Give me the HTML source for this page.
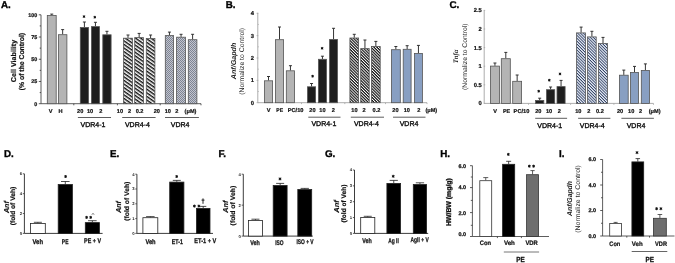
<!DOCTYPE html>
<html><head><meta charset="utf-8"><style>
html,body{margin:0;padding:0;background:#fff;}
body{width:675px;height:263px;overflow:hidden;}
svg{display:block;font-family:"Liberation Sans", sans-serif;will-change:transform;text-rendering:geometricPrecision;filter:blur(0.35px);}
</style></head><body>
<svg width="675" height="263" viewBox="0 0 675 263">
<defs>
<pattern id="hatchA" patternUnits="userSpaceOnUse" width="6" height="2.95" patternTransform="rotate(35)">
<rect width="6" height="2.95" fill="#fff"/><rect width="6" height="1.45" fill="#111"/></pattern>
<pattern id="hatchB" patternUnits="userSpaceOnUse" width="6" height="2.05" patternTransform="rotate(45)">
<rect width="6" height="2.05" fill="#fff"/><rect width="6" height="1.15" fill="#111"/></pattern>
<pattern id="hatchC" patternUnits="userSpaceOnUse" width="6" height="2.05" patternTransform="rotate(45)">
<rect width="6" height="2.05" fill="#eef3fc"/><rect width="6" height="0.9" fill="#2c3c60"/></pattern>
<pattern id="checkA" patternUnits="userSpaceOnUse" width="2" height="2">
<rect width="2" height="2" fill="#c2c5ce"/><rect width="1" height="1" fill="#7e8494"/><rect x="1" y="1" width="1" height="1" fill="#7e8494"/></pattern>
</defs>
<rect width="675" height="263" fill="#fff"/>
<text x="1.00" y="7.60" font-size="9.8" font-weight="bold" font-style="normal" text-anchor="start" fill="#000" stroke="#000" stroke-width="0.35" >A.</text>
<line x1="41.00" y1="14.80" x2="41.00" y2="103.70" stroke="#333" stroke-width="0.8"/>
<line x1="41.00" y1="103.70" x2="201.00" y2="103.70" stroke="#333" stroke-width="0.8"/>
<line x1="38.80" y1="103.70" x2="41.00" y2="103.70" stroke="#333" stroke-width="0.8"/>
<text x="37.20" y="105.60" font-size="5.4" font-weight="bold" font-style="normal" text-anchor="end" fill="#111" stroke="#111" stroke-width="0.2" >0</text>
<line x1="38.80" y1="81.47" x2="41.00" y2="81.47" stroke="#333" stroke-width="0.8"/>
<text x="37.20" y="83.38" font-size="5.4" font-weight="bold" font-style="normal" text-anchor="end" fill="#111" stroke="#111" stroke-width="0.2" >25</text>
<line x1="38.80" y1="59.25" x2="41.00" y2="59.25" stroke="#333" stroke-width="0.8"/>
<text x="37.20" y="61.15" font-size="5.4" font-weight="bold" font-style="normal" text-anchor="end" fill="#111" stroke="#111" stroke-width="0.2" >50</text>
<line x1="38.80" y1="37.03" x2="41.00" y2="37.03" stroke="#333" stroke-width="0.8"/>
<text x="37.20" y="38.93" font-size="5.4" font-weight="bold" font-style="normal" text-anchor="end" fill="#111" stroke="#111" stroke-width="0.2" >75</text>
<line x1="38.80" y1="14.80" x2="41.00" y2="14.80" stroke="#333" stroke-width="0.8"/>
<text x="37.20" y="16.70" font-size="5.4" font-weight="bold" font-style="normal" text-anchor="end" fill="#111" stroke="#111" stroke-width="0.2" >100</text>
<line x1="39.70" y1="92.59" x2="41.00" y2="92.59" stroke="#333" stroke-width="0.8"/>
<line x1="39.70" y1="70.36" x2="41.00" y2="70.36" stroke="#333" stroke-width="0.8"/>
<line x1="39.70" y1="48.14" x2="41.00" y2="48.14" stroke="#333" stroke-width="0.8"/>
<line x1="39.70" y1="25.91" x2="41.00" y2="25.91" stroke="#333" stroke-width="0.8"/>
<line x1="73.80" y1="103.70" x2="73.80" y2="105.30" stroke="#333" stroke-width="0.8"/>
<line x1="117.40" y1="103.70" x2="117.40" y2="105.30" stroke="#333" stroke-width="0.8"/>
<line x1="160.20" y1="103.70" x2="160.20" y2="105.30" stroke="#333" stroke-width="0.8"/>
<line x1="201.00" y1="103.70" x2="201.00" y2="105.30" stroke="#333" stroke-width="0.8"/>
<line x1="51.75" y1="15.20" x2="51.75" y2="14.10" stroke="#2a2a2a" stroke-width="0.95"/>
<line x1="50.25" y1="14.10" x2="53.25" y2="14.10" stroke="#2a2a2a" stroke-width="0.95"/>
<rect x="47.30" y="15.50" width="8.90" height="88.20" fill="#b4b4b4" stroke="#555" stroke-width="0.8"/>
<line x1="62.65" y1="34.40" x2="62.65" y2="29.60" stroke="#2a2a2a" stroke-width="0.95"/>
<line x1="61.15" y1="29.60" x2="64.15" y2="29.60" stroke="#2a2a2a" stroke-width="0.95"/>
<rect x="58.40" y="34.70" width="8.50" height="69.00" fill="#b4b4b4" stroke="#555" stroke-width="0.8"/>
<line x1="84.40" y1="27.10" x2="84.40" y2="22.00" stroke="#2a2a2a" stroke-width="0.95"/>
<line x1="82.90" y1="22.00" x2="85.90" y2="22.00" stroke="#2a2a2a" stroke-width="0.95"/>
<rect x="80.30" y="27.40" width="8.20" height="76.30" fill="#1e1e1e" stroke="#555" stroke-width="0.8"/>
<line x1="95.45" y1="26.30" x2="95.45" y2="22.30" stroke="#2a2a2a" stroke-width="0.95"/>
<line x1="93.95" y1="22.30" x2="96.95" y2="22.30" stroke="#2a2a2a" stroke-width="0.95"/>
<rect x="91.40" y="26.60" width="8.10" height="77.10" fill="#1e1e1e" stroke="#555" stroke-width="0.8"/>
<line x1="106.95" y1="34.50" x2="106.95" y2="31.30" stroke="#2a2a2a" stroke-width="0.95"/>
<line x1="105.45" y1="31.30" x2="108.45" y2="31.30" stroke="#2a2a2a" stroke-width="0.95"/>
<rect x="102.80" y="34.80" width="8.30" height="68.90" fill="#1e1e1e" stroke="#555" stroke-width="0.8"/>
<line x1="128.00" y1="37.90" x2="128.00" y2="35.00" stroke="#2a2a2a" stroke-width="0.95"/>
<line x1="126.50" y1="35.00" x2="129.50" y2="35.00" stroke="#2a2a2a" stroke-width="0.95"/>
<rect x="123.50" y="38.20" width="9.00" height="65.50" fill="url(#hatchA)" stroke="#555" stroke-width="0.8"/>
<line x1="139.15" y1="37.30" x2="139.15" y2="33.40" stroke="#2a2a2a" stroke-width="0.95"/>
<line x1="137.65" y1="33.40" x2="140.65" y2="33.40" stroke="#2a2a2a" stroke-width="0.95"/>
<rect x="134.70" y="37.60" width="8.90" height="66.10" fill="url(#hatchA)" stroke="#555" stroke-width="0.8"/>
<line x1="150.60" y1="38.20" x2="150.60" y2="35.00" stroke="#2a2a2a" stroke-width="0.95"/>
<line x1="149.10" y1="35.00" x2="152.10" y2="35.00" stroke="#2a2a2a" stroke-width="0.95"/>
<rect x="146.30" y="38.50" width="8.60" height="65.20" fill="url(#hatchA)" stroke="#555" stroke-width="0.8"/>
<line x1="169.45" y1="35.30" x2="169.45" y2="32.10" stroke="#2a2a2a" stroke-width="0.95"/>
<line x1="167.95" y1="32.10" x2="170.95" y2="32.10" stroke="#2a2a2a" stroke-width="0.95"/>
<rect x="165.30" y="35.60" width="8.30" height="68.10" fill="url(#checkA)" stroke="#555" stroke-width="0.8"/>
<line x1="181.05" y1="36.90" x2="181.05" y2="34.30" stroke="#2a2a2a" stroke-width="0.95"/>
<line x1="179.55" y1="34.30" x2="182.55" y2="34.30" stroke="#2a2a2a" stroke-width="0.95"/>
<rect x="176.60" y="37.20" width="8.90" height="66.50" fill="url(#checkA)" stroke="#555" stroke-width="0.8"/>
<line x1="192.60" y1="39.40" x2="192.60" y2="34.30" stroke="#2a2a2a" stroke-width="0.95"/>
<line x1="191.10" y1="34.30" x2="194.10" y2="34.30" stroke="#2a2a2a" stroke-width="0.95"/>
<rect x="188.30" y="39.70" width="8.60" height="64.00" fill="url(#checkA)" stroke="#555" stroke-width="0.8"/>
<path d="M84.00,15.25L84.00,17.95M82.83,15.93L85.17,17.28M85.17,15.93L82.83,17.28" stroke="#111" stroke-width="0.95" fill="none"/>
<circle cx="84.0" cy="16.6" r="0.74" fill="#111"/>
<path d="M94.80,15.85L94.80,18.55M93.63,16.52L95.97,17.88M95.97,16.52L93.63,17.88" stroke="#111" stroke-width="0.95" fill="none"/>
<circle cx="94.8" cy="17.2" r="0.74" fill="#111"/>
<text x="50.50" y="113.20" font-size="5.6" font-weight="bold" font-style="normal" text-anchor="middle" fill="#111" stroke="#111" stroke-width="0.2" >V</text>
<text x="60.40" y="113.20" font-size="5.6" font-weight="bold" font-style="normal" text-anchor="middle" fill="#111" stroke="#111" stroke-width="0.2" >H</text>
<text x="80.20" y="113.20" font-size="5.6" font-weight="bold" font-style="normal" text-anchor="middle" fill="#111" stroke="#111" stroke-width="0.2" >20</text>
<text x="90.00" y="113.20" font-size="5.6" font-weight="bold" font-style="normal" text-anchor="middle" fill="#111" stroke="#111" stroke-width="0.2" >10</text>
<text x="100.70" y="113.20" font-size="5.6" font-weight="bold" font-style="normal" text-anchor="middle" fill="#111" stroke="#111" stroke-width="0.2" >2</text>
<text x="119.90" y="113.20" font-size="5.6" font-weight="bold" font-style="normal" text-anchor="middle" fill="#111" stroke="#111" stroke-width="0.2" >10</text>
<text x="129.50" y="113.20" font-size="5.6" font-weight="bold" font-style="normal" text-anchor="middle" fill="#111" stroke="#111" stroke-width="0.2" >2</text>
<text x="139.60" y="113.20" font-size="5.6" font-weight="bold" font-style="normal" text-anchor="middle" fill="#111" stroke="#111" stroke-width="0.2" >0.2</text>
<text x="156.80" y="113.20" font-size="5.6" font-weight="bold" font-style="normal" text-anchor="middle" fill="#111" stroke="#111" stroke-width="0.2" >20</text>
<text x="167.80" y="113.20" font-size="5.6" font-weight="bold" font-style="normal" text-anchor="middle" fill="#111" stroke="#111" stroke-width="0.2" >10</text>
<text x="176.90" y="113.20" font-size="5.6" font-weight="bold" font-style="normal" text-anchor="middle" fill="#111" stroke="#111" stroke-width="0.2" >2</text>
<text x="190.50" y="113.20" font-size="5.6" font-weight="bold" font-style="normal" text-anchor="middle" fill="#111" stroke="#111" stroke-width="0.2" >(&#956;M)</text>
<line x1="77.90" y1="117.50" x2="111.00" y2="117.50" stroke="#333" stroke-width="0.8"/>
<line x1="122.20" y1="117.50" x2="155.60" y2="117.50" stroke="#333" stroke-width="0.8"/>
<line x1="165.00" y1="117.50" x2="198.90" y2="117.50" stroke="#333" stroke-width="0.8"/>
<text x="93.00" y="127.00" font-size="7.0" font-weight="normal" font-style="normal" text-anchor="middle" fill="#111" stroke="#111" stroke-width="0.35" >VDR4-1</text>
<text x="137.40" y="127.00" font-size="7.0" font-weight="normal" font-style="normal" text-anchor="middle" fill="#111" stroke="#111" stroke-width="0.35" >VDR4-4</text>
<text x="180.20" y="127.00" font-size="7.0" font-weight="normal" font-style="normal" text-anchor="middle" fill="#111" stroke="#111" stroke-width="0.35" >VDR4</text>
<text x="0" y="0" transform="translate(15.92,61.00) rotate(-90)" font-size="7.0" font-weight="bold" font-style="normal" text-anchor="middle" fill="#111" textLength="42.4" lengthAdjust="spacingAndGlyphs" stroke="#111" stroke-width="0.2">Cell Viability</text>
<text x="0" y="0" transform="translate(24.02,61.60) rotate(-90)" font-size="7.0" font-weight="bold" font-style="normal" text-anchor="middle" fill="#111" textLength="57.3" lengthAdjust="spacingAndGlyphs" stroke="#111" stroke-width="0.2">(% of the Control)</text>
<text x="225.80" y="7.60" font-size="9.8" font-weight="bold" font-style="normal" text-anchor="start" fill="#000" stroke="#000" stroke-width="0.35" >B.</text>
<line x1="257.80" y1="12.80" x2="257.80" y2="102.70" stroke="#a4a4a4" stroke-width="0.9"/>
<line x1="257.80" y1="102.70" x2="427.00" y2="102.70" stroke="#a4a4a4" stroke-width="0.9"/>
<line x1="256.60" y1="102.70" x2="258.30" y2="102.70" stroke="#a4a4a4" stroke-width="0.8"/>
<text x="253.90" y="104.70" font-size="5.8" font-weight="bold" font-style="normal" text-anchor="end" fill="#111" stroke="#111" stroke-width="0.2" >0</text>
<line x1="256.60" y1="80.35" x2="258.30" y2="80.35" stroke="#a4a4a4" stroke-width="0.8"/>
<text x="253.90" y="82.35" font-size="5.8" font-weight="bold" font-style="normal" text-anchor="end" fill="#111" stroke="#111" stroke-width="0.2" >1</text>
<line x1="256.60" y1="58.00" x2="258.30" y2="58.00" stroke="#a4a4a4" stroke-width="0.8"/>
<text x="253.90" y="60.00" font-size="5.8" font-weight="bold" font-style="normal" text-anchor="end" fill="#111" stroke="#111" stroke-width="0.2" >2</text>
<line x1="256.60" y1="35.65" x2="258.30" y2="35.65" stroke="#a4a4a4" stroke-width="0.8"/>
<text x="253.90" y="37.65" font-size="5.8" font-weight="bold" font-style="normal" text-anchor="end" fill="#111" stroke="#111" stroke-width="0.2" >3</text>
<line x1="256.60" y1="13.30" x2="258.30" y2="13.30" stroke="#a4a4a4" stroke-width="0.8"/>
<text x="253.90" y="15.30" font-size="5.8" font-weight="bold" font-style="normal" text-anchor="end" fill="#111" stroke="#111" stroke-width="0.2" >4</text>
<line x1="257.80" y1="91.53" x2="258.80" y2="91.53" stroke="#a4a4a4" stroke-width="0.7"/>
<line x1="257.80" y1="69.17" x2="258.80" y2="69.17" stroke="#a4a4a4" stroke-width="0.7"/>
<line x1="257.80" y1="46.83" x2="258.80" y2="46.83" stroke="#a4a4a4" stroke-width="0.7"/>
<line x1="257.80" y1="24.47" x2="258.80" y2="24.47" stroke="#a4a4a4" stroke-width="0.7"/>
<line x1="301.50" y1="102.70" x2="301.50" y2="104.10" stroke="#a4a4a4" stroke-width="0.8"/>
<line x1="344.80" y1="102.70" x2="344.80" y2="104.10" stroke="#a4a4a4" stroke-width="0.8"/>
<line x1="385.50" y1="102.70" x2="385.50" y2="104.10" stroke="#a4a4a4" stroke-width="0.8"/>
<line x1="427.00" y1="102.70" x2="427.00" y2="104.10" stroke="#a4a4a4" stroke-width="0.8"/>
<line x1="268.50" y1="80.50" x2="268.50" y2="76.50" stroke="#2a2a2a" stroke-width="0.95"/>
<line x1="267.00" y1="76.50" x2="270.00" y2="76.50" stroke="#2a2a2a" stroke-width="0.95"/>
<rect x="264.40" y="80.80" width="8.20" height="21.90" fill="#b4b4b4" stroke="#555" stroke-width="0.8"/>
<line x1="279.50" y1="39.40" x2="279.50" y2="27.00" stroke="#2a2a2a" stroke-width="0.95"/>
<line x1="278.00" y1="27.00" x2="281.00" y2="27.00" stroke="#2a2a2a" stroke-width="0.95"/>
<rect x="275.40" y="39.70" width="8.20" height="63.00" fill="#b4b4b4" stroke="#555" stroke-width="0.8"/>
<line x1="290.45" y1="70.50" x2="290.45" y2="65.70" stroke="#2a2a2a" stroke-width="0.95"/>
<line x1="288.95" y1="65.70" x2="291.95" y2="65.70" stroke="#2a2a2a" stroke-width="0.95"/>
<rect x="286.30" y="70.80" width="8.30" height="31.90" fill="#b4b4b4" stroke="#555" stroke-width="0.8"/>
<line x1="311.55" y1="86.50" x2="311.55" y2="83.50" stroke="#2a2a2a" stroke-width="0.95"/>
<line x1="310.05" y1="83.50" x2="313.05" y2="83.50" stroke="#2a2a2a" stroke-width="0.95"/>
<rect x="307.50" y="86.80" width="8.10" height="15.90" fill="#1e1e1e" stroke="#555" stroke-width="0.8"/>
<line x1="322.45" y1="59.00" x2="322.45" y2="56.20" stroke="#2a2a2a" stroke-width="0.95"/>
<line x1="320.95" y1="56.20" x2="323.95" y2="56.20" stroke="#2a2a2a" stroke-width="0.95"/>
<rect x="318.40" y="59.30" width="8.10" height="43.40" fill="#1e1e1e" stroke="#555" stroke-width="0.8"/>
<line x1="333.55" y1="39.10" x2="333.55" y2="28.30" stroke="#2a2a2a" stroke-width="0.95"/>
<line x1="332.05" y1="28.30" x2="335.05" y2="28.30" stroke="#2a2a2a" stroke-width="0.95"/>
<rect x="329.60" y="39.40" width="7.90" height="63.30" fill="#1e1e1e" stroke="#555" stroke-width="0.8"/>
<line x1="354.25" y1="37.70" x2="354.25" y2="34.30" stroke="#2a2a2a" stroke-width="0.95"/>
<line x1="352.75" y1="34.30" x2="355.75" y2="34.30" stroke="#2a2a2a" stroke-width="0.95"/>
<rect x="349.90" y="38.00" width="8.70" height="64.70" fill="url(#hatchB)" stroke="#555" stroke-width="0.8"/>
<line x1="364.95" y1="48.30" x2="364.95" y2="40.00" stroke="#2a2a2a" stroke-width="0.95"/>
<line x1="363.45" y1="40.00" x2="366.45" y2="40.00" stroke="#2a2a2a" stroke-width="0.95"/>
<rect x="360.70" y="48.60" width="8.50" height="54.10" fill="url(#hatchB)" stroke="#555" stroke-width="0.8"/>
<line x1="375.85" y1="46.20" x2="375.85" y2="41.40" stroke="#2a2a2a" stroke-width="0.95"/>
<line x1="374.35" y1="41.40" x2="377.35" y2="41.40" stroke="#2a2a2a" stroke-width="0.95"/>
<rect x="371.50" y="46.50" width="8.70" height="56.20" fill="url(#hatchB)" stroke="#555" stroke-width="0.8"/>
<line x1="395.85" y1="49.40" x2="395.85" y2="46.50" stroke="#2a2a2a" stroke-width="0.95"/>
<line x1="394.35" y1="46.50" x2="397.35" y2="46.50" stroke="#2a2a2a" stroke-width="0.95"/>
<rect x="391.40" y="49.70" width="8.90" height="53.00" fill="#889fc2" stroke="#555" stroke-width="0.8"/>
<line x1="407.15" y1="49.00" x2="407.15" y2="45.70" stroke="#2a2a2a" stroke-width="0.95"/>
<line x1="405.65" y1="45.70" x2="408.65" y2="45.70" stroke="#2a2a2a" stroke-width="0.95"/>
<rect x="403.20" y="49.30" width="7.90" height="53.40" fill="#889fc2" stroke="#555" stroke-width="0.8"/>
<line x1="418.45" y1="53.10" x2="418.45" y2="45.40" stroke="#2a2a2a" stroke-width="0.95"/>
<line x1="416.95" y1="45.40" x2="419.95" y2="45.40" stroke="#2a2a2a" stroke-width="0.95"/>
<rect x="414.50" y="53.40" width="7.90" height="49.30" fill="#889fc2" stroke="#555" stroke-width="0.8"/>
<path d="M312.60,74.85L312.60,77.55M311.43,75.53L313.77,76.88M313.77,75.53L311.43,76.88" stroke="#111" stroke-width="0.95" fill="none"/>
<circle cx="312.6" cy="76.2" r="0.74" fill="#111"/>
<path d="M322.10,46.95L322.10,49.65M320.93,47.62L323.27,48.97M323.27,47.62L320.93,48.97" stroke="#111" stroke-width="0.95" fill="none"/>
<circle cx="322.1" cy="48.3" r="0.74" fill="#111"/>
<text x="268.60" y="112.00" font-size="5.6" font-weight="bold" font-style="normal" text-anchor="middle" fill="#111" stroke="#111" stroke-width="0.2" >V</text>
<text x="279.70" y="112.00" font-size="5.6" font-weight="bold" font-style="normal" text-anchor="middle" fill="#111" textLength="6.8" lengthAdjust="spacingAndGlyphs" stroke="#111" stroke-width="0.2" >PE</text>
<text x="295.60" y="112.00" font-size="5.6" font-weight="bold" font-style="normal" text-anchor="middle" fill="#111" textLength="15.8" lengthAdjust="spacingAndGlyphs" stroke="#111" stroke-width="0.2" >PC/10</text>
<text x="312.40" y="112.00" font-size="5.6" font-weight="bold" font-style="normal" text-anchor="middle" fill="#111" stroke="#111" stroke-width="0.2" >20</text>
<text x="322.40" y="112.00" font-size="5.6" font-weight="bold" font-style="normal" text-anchor="middle" fill="#111" stroke="#111" stroke-width="0.2" >10</text>
<text x="333.20" y="112.00" font-size="5.6" font-weight="bold" font-style="normal" text-anchor="middle" fill="#111" stroke="#111" stroke-width="0.2" >2</text>
<text x="354.40" y="112.00" font-size="5.6" font-weight="bold" font-style="normal" text-anchor="middle" fill="#111" stroke="#111" stroke-width="0.2" >10</text>
<text x="364.10" y="112.00" font-size="5.6" font-weight="bold" font-style="normal" text-anchor="middle" fill="#111" stroke="#111" stroke-width="0.2" >2</text>
<text x="376.50" y="112.00" font-size="5.6" font-weight="bold" font-style="normal" text-anchor="middle" fill="#111" stroke="#111" stroke-width="0.2" >0.2</text>
<text x="395.40" y="112.00" font-size="5.6" font-weight="bold" font-style="normal" text-anchor="middle" fill="#111" stroke="#111" stroke-width="0.2" >20</text>
<text x="406.80" y="112.00" font-size="5.6" font-weight="bold" font-style="normal" text-anchor="middle" fill="#111" stroke="#111" stroke-width="0.2" >10</text>
<text x="418.70" y="112.00" font-size="5.6" font-weight="bold" font-style="normal" text-anchor="middle" fill="#111" stroke="#111" stroke-width="0.2" >2</text>
<text x="431.30" y="112.00" font-size="5.6" font-weight="bold" font-style="normal" text-anchor="middle" fill="#111" stroke="#111" stroke-width="0.2" >(&#956;M)</text>
<line x1="308.30" y1="117.20" x2="340.50" y2="117.20" stroke="#333" stroke-width="0.8"/>
<line x1="350.80" y1="117.20" x2="384.00" y2="117.20" stroke="#333" stroke-width="0.8"/>
<line x1="393.00" y1="117.20" x2="425.50" y2="117.20" stroke="#333" stroke-width="0.8"/>
<text x="323.90" y="125.50" font-size="7.0" font-weight="normal" font-style="normal" text-anchor="middle" fill="#111" stroke="#111" stroke-width="0.35" >VDR4-1</text>
<text x="366.40" y="125.50" font-size="7.0" font-weight="normal" font-style="normal" text-anchor="middle" fill="#111" stroke="#111" stroke-width="0.35" >VDR4-4</text>
<text x="409.00" y="125.50" font-size="7.0" font-weight="normal" font-style="normal" text-anchor="middle" fill="#111" stroke="#111" stroke-width="0.35" >VDR4</text>
<text x="0" y="0" transform="translate(235.72,61.00) rotate(-90)" font-size="7.0" font-weight="bold" font-style="italic" text-anchor="middle" fill="#222" textLength="36.5" lengthAdjust="spacingAndGlyphs">Anf/Gapdh</text>
<text x="0" y="0" transform="translate(244.35,61.40) rotate(-90)" font-size="6.75" font-weight="normal" font-style="normal" text-anchor="middle" fill="#222" textLength="66.8" lengthAdjust="spacingAndGlyphs">(Normalize to Control)</text>
<text x="449.40" y="7.60" font-size="9.8" font-weight="bold" font-style="normal" text-anchor="start" fill="#000" stroke="#000" stroke-width="0.35" >C.</text>
<line x1="484.20" y1="10.40" x2="484.20" y2="103.40" stroke="#a4a4a4" stroke-width="0.9"/>
<line x1="484.20" y1="103.40" x2="653.50" y2="103.40" stroke="#a4a4a4" stroke-width="0.9"/>
<line x1="483.70" y1="103.40" x2="485.20" y2="103.40" stroke="#a4a4a4" stroke-width="0.8"/>
<text x="481.80" y="105.30" font-size="5.8" font-weight="bold" font-style="normal" text-anchor="end" fill="#111" stroke="#111" stroke-width="0.2" >0</text>
<line x1="483.70" y1="84.80" x2="485.20" y2="84.80" stroke="#a4a4a4" stroke-width="0.8"/>
<text x="481.80" y="86.70" font-size="5.8" font-weight="bold" font-style="normal" text-anchor="end" fill="#111" stroke="#111" stroke-width="0.2" >0.5</text>
<line x1="483.70" y1="66.20" x2="485.20" y2="66.20" stroke="#a4a4a4" stroke-width="0.8"/>
<text x="481.80" y="68.10" font-size="5.8" font-weight="bold" font-style="normal" text-anchor="end" fill="#111" stroke="#111" stroke-width="0.2" >1</text>
<line x1="483.70" y1="47.60" x2="485.20" y2="47.60" stroke="#a4a4a4" stroke-width="0.8"/>
<text x="481.80" y="49.50" font-size="5.8" font-weight="bold" font-style="normal" text-anchor="end" fill="#111" stroke="#111" stroke-width="0.2" >1.5</text>
<line x1="483.70" y1="29.00" x2="485.20" y2="29.00" stroke="#a4a4a4" stroke-width="0.8"/>
<text x="481.80" y="30.90" font-size="5.8" font-weight="bold" font-style="normal" text-anchor="end" fill="#111" stroke="#111" stroke-width="0.2" >2</text>
<line x1="483.70" y1="10.40" x2="485.20" y2="10.40" stroke="#a4a4a4" stroke-width="0.8"/>
<text x="481.80" y="12.30" font-size="5.8" font-weight="bold" font-style="normal" text-anchor="end" fill="#111" stroke="#111" stroke-width="0.2" >2.5</text>
<line x1="528.50" y1="103.40" x2="528.50" y2="104.80" stroke="#a4a4a4" stroke-width="0.8"/>
<line x1="570.60" y1="103.40" x2="570.60" y2="104.80" stroke="#a4a4a4" stroke-width="0.8"/>
<line x1="613.90" y1="103.40" x2="613.90" y2="104.80" stroke="#a4a4a4" stroke-width="0.8"/>
<line x1="653.50" y1="103.40" x2="653.50" y2="104.80" stroke="#a4a4a4" stroke-width="0.8"/>
<line x1="494.95" y1="65.80" x2="494.95" y2="63.00" stroke="#2a2a2a" stroke-width="0.95"/>
<line x1="493.45" y1="63.00" x2="496.45" y2="63.00" stroke="#2a2a2a" stroke-width="0.95"/>
<rect x="490.40" y="66.10" width="9.10" height="37.30" fill="#b4b4b4" stroke="#555" stroke-width="0.8"/>
<line x1="505.80" y1="58.40" x2="505.80" y2="52.40" stroke="#2a2a2a" stroke-width="0.95"/>
<line x1="504.30" y1="52.40" x2="507.30" y2="52.40" stroke="#2a2a2a" stroke-width="0.95"/>
<rect x="501.30" y="58.70" width="9.00" height="44.70" fill="#b4b4b4" stroke="#555" stroke-width="0.8"/>
<line x1="517.15" y1="81.00" x2="517.15" y2="75.00" stroke="#2a2a2a" stroke-width="0.95"/>
<line x1="515.65" y1="75.00" x2="518.65" y2="75.00" stroke="#2a2a2a" stroke-width="0.95"/>
<rect x="512.70" y="81.30" width="8.90" height="22.10" fill="#b4b4b4" stroke="#555" stroke-width="0.8"/>
<line x1="539.70" y1="100.10" x2="539.70" y2="98.20" stroke="#2a2a2a" stroke-width="0.95"/>
<line x1="538.20" y1="98.20" x2="541.20" y2="98.20" stroke="#2a2a2a" stroke-width="0.95"/>
<rect x="535.60" y="100.40" width="8.20" height="3.00" fill="#1e1e1e" stroke="#555" stroke-width="0.8"/>
<line x1="550.60" y1="89.40" x2="550.60" y2="87.00" stroke="#2a2a2a" stroke-width="0.95"/>
<line x1="549.10" y1="87.00" x2="552.10" y2="87.00" stroke="#2a2a2a" stroke-width="0.95"/>
<rect x="546.50" y="89.70" width="8.20" height="13.70" fill="#1e1e1e" stroke="#555" stroke-width="0.8"/>
<line x1="561.05" y1="86.30" x2="561.05" y2="80.40" stroke="#2a2a2a" stroke-width="0.95"/>
<line x1="559.55" y1="80.40" x2="562.55" y2="80.40" stroke="#2a2a2a" stroke-width="0.95"/>
<rect x="557.00" y="86.60" width="8.10" height="16.80" fill="#1e1e1e" stroke="#555" stroke-width="0.8"/>
<line x1="581.10" y1="32.60" x2="581.10" y2="27.10" stroke="#2a2a2a" stroke-width="0.95"/>
<line x1="579.60" y1="27.10" x2="582.60" y2="27.10" stroke="#2a2a2a" stroke-width="0.95"/>
<rect x="576.60" y="32.90" width="9.00" height="70.50" fill="url(#hatchC)" stroke="#555" stroke-width="0.8"/>
<line x1="591.90" y1="36.60" x2="591.90" y2="31.30" stroke="#2a2a2a" stroke-width="0.95"/>
<line x1="590.40" y1="31.30" x2="593.40" y2="31.30" stroke="#2a2a2a" stroke-width="0.95"/>
<rect x="587.60" y="36.90" width="8.60" height="66.50" fill="url(#hatchC)" stroke="#555" stroke-width="0.8"/>
<line x1="603.00" y1="43.10" x2="603.00" y2="37.40" stroke="#2a2a2a" stroke-width="0.95"/>
<line x1="601.50" y1="37.40" x2="604.50" y2="37.40" stroke="#2a2a2a" stroke-width="0.95"/>
<rect x="598.50" y="43.40" width="9.00" height="60.00" fill="url(#hatchC)" stroke="#555" stroke-width="0.8"/>
<line x1="623.80" y1="74.90" x2="623.80" y2="70.10" stroke="#2a2a2a" stroke-width="0.95"/>
<line x1="622.30" y1="70.10" x2="625.30" y2="70.10" stroke="#2a2a2a" stroke-width="0.95"/>
<rect x="619.40" y="75.20" width="8.80" height="28.20" fill="#889fc2" stroke="#555" stroke-width="0.8"/>
<line x1="634.50" y1="72.10" x2="634.50" y2="66.40" stroke="#2a2a2a" stroke-width="0.95"/>
<line x1="633.00" y1="66.40" x2="636.00" y2="66.40" stroke="#2a2a2a" stroke-width="0.95"/>
<rect x="630.50" y="72.40" width="8.00" height="31.00" fill="#889fc2" stroke="#555" stroke-width="0.8"/>
<line x1="645.40" y1="70.10" x2="645.40" y2="63.90" stroke="#2a2a2a" stroke-width="0.95"/>
<line x1="643.90" y1="63.90" x2="646.90" y2="63.90" stroke="#2a2a2a" stroke-width="0.95"/>
<rect x="641.30" y="70.40" width="8.20" height="33.00" fill="#889fc2" stroke="#555" stroke-width="0.8"/>
<path d="M538.70,89.85L538.70,92.55M537.53,90.53L539.87,91.88M539.87,90.53L537.53,91.88" stroke="#111" stroke-width="0.95" fill="none"/>
<circle cx="538.7" cy="91.2" r="0.74" fill="#111"/>
<path d="M549.30,78.85L549.30,81.55M548.13,79.53L550.47,80.88M550.47,79.53L548.13,80.88" stroke="#111" stroke-width="0.95" fill="none"/>
<circle cx="549.3" cy="80.2" r="0.74" fill="#111"/>
<path d="M560.00,72.55L560.00,75.25M558.83,73.23L561.17,74.58M561.17,73.23L558.83,74.58" stroke="#111" stroke-width="0.95" fill="none"/>
<circle cx="560" cy="73.9" r="0.74" fill="#111"/>
<text x="495.20" y="113.00" font-size="5.6" font-weight="bold" font-style="normal" text-anchor="middle" fill="#111" stroke="#111" stroke-width="0.2" >V</text>
<text x="506.60" y="113.00" font-size="5.6" font-weight="bold" font-style="normal" text-anchor="middle" fill="#111" textLength="7.2" lengthAdjust="spacingAndGlyphs" stroke="#111" stroke-width="0.2" >PE</text>
<text x="521.50" y="113.00" font-size="5.6" font-weight="bold" font-style="normal" text-anchor="middle" fill="#111" textLength="15.8" lengthAdjust="spacingAndGlyphs" stroke="#111" stroke-width="0.2" >PC/10</text>
<text x="538.30" y="113.00" font-size="5.6" font-weight="bold" font-style="normal" text-anchor="middle" fill="#111" stroke="#111" stroke-width="0.2" >20</text>
<text x="549.00" y="113.00" font-size="5.6" font-weight="bold" font-style="normal" text-anchor="middle" fill="#111" stroke="#111" stroke-width="0.2" >10</text>
<text x="559.40" y="113.00" font-size="5.6" font-weight="bold" font-style="normal" text-anchor="middle" fill="#111" stroke="#111" stroke-width="0.2" >2</text>
<text x="578.30" y="113.00" font-size="5.6" font-weight="bold" font-style="normal" text-anchor="middle" fill="#111" stroke="#111" stroke-width="0.2" >10</text>
<text x="588.80" y="113.00" font-size="5.6" font-weight="bold" font-style="normal" text-anchor="middle" fill="#111" stroke="#111" stroke-width="0.2" >2</text>
<text x="599.90" y="113.00" font-size="5.6" font-weight="bold" font-style="normal" text-anchor="middle" fill="#111" stroke="#111" stroke-width="0.2" >0.2</text>
<text x="620.10" y="113.00" font-size="5.6" font-weight="bold" font-style="normal" text-anchor="middle" fill="#111" stroke="#111" stroke-width="0.2" >20</text>
<text x="631.20" y="113.00" font-size="5.6" font-weight="bold" font-style="normal" text-anchor="middle" fill="#111" stroke="#111" stroke-width="0.2" >10</text>
<text x="640.60" y="113.00" font-size="5.6" font-weight="bold" font-style="normal" text-anchor="middle" fill="#111" stroke="#111" stroke-width="0.2" >2</text>
<text x="654.60" y="113.00" font-size="5.6" font-weight="bold" font-style="normal" text-anchor="middle" fill="#111" stroke="#111" stroke-width="0.2" >(&#956;M)</text>
<line x1="535.20" y1="118.30" x2="567.10" y2="118.30" stroke="#333" stroke-width="0.8"/>
<line x1="578.10" y1="118.30" x2="610.40" y2="118.30" stroke="#333" stroke-width="0.8"/>
<line x1="621.40" y1="118.30" x2="653.90" y2="118.30" stroke="#333" stroke-width="0.8"/>
<text x="549.80" y="127.50" font-size="7.0" font-weight="normal" font-style="normal" text-anchor="middle" fill="#111" stroke="#111" stroke-width="0.35" >VDR4-1</text>
<text x="592.30" y="127.50" font-size="7.0" font-weight="normal" font-style="normal" text-anchor="middle" fill="#111" stroke="#111" stroke-width="0.35" >VDR4-4</text>
<text x="636.00" y="127.50" font-size="7.0" font-weight="normal" font-style="normal" text-anchor="middle" fill="#111" stroke="#111" stroke-width="0.35" >VDR4</text>
<text x="0" y="0" transform="translate(458.31,56.40) rotate(-90)" font-size="7.0" font-weight="bold" font-style="italic" text-anchor="middle" fill="#222" textLength="13.6" lengthAdjust="spacingAndGlyphs"><tspan font-family="Liberation Serif">Tnf&#945;</tspan></text>
<text x="0" y="0" transform="translate(466.86,56.70) rotate(-90)" font-size="6.75" font-weight="normal" font-style="normal" text-anchor="middle" fill="#222" textLength="66.6" lengthAdjust="spacingAndGlyphs">(Normalize to Control)</text>
<text x="4.00" y="157.00" font-size="9.8" font-weight="bold" font-style="normal" text-anchor="start" fill="#000" stroke="#000" stroke-width="0.35" >D.</text>
<line x1="24.40" y1="173.80" x2="24.40" y2="233.40" stroke="#333" stroke-width="0.95"/>
<line x1="24.40" y1="233.40" x2="102.60" y2="233.40" stroke="#333" stroke-width="0.95"/>
<line x1="22.80" y1="233.40" x2="24.40" y2="233.40" stroke="#333" stroke-width="0.8"/>
<text x="22.00" y="234.80" font-size="4.2" font-weight="bold" font-style="normal" text-anchor="end" fill="#222" >0</text>
<line x1="22.80" y1="213.53" x2="24.40" y2="213.53" stroke="#333" stroke-width="0.8"/>
<text x="22.00" y="214.93" font-size="4.2" font-weight="bold" font-style="normal" text-anchor="end" fill="#222" >2</text>
<line x1="22.80" y1="193.67" x2="24.40" y2="193.67" stroke="#333" stroke-width="0.8"/>
<text x="22.00" y="195.07" font-size="4.2" font-weight="bold" font-style="normal" text-anchor="end" fill="#222" >4</text>
<line x1="22.80" y1="173.80" x2="24.40" y2="173.80" stroke="#333" stroke-width="0.8"/>
<text x="22.00" y="175.20" font-size="4.2" font-weight="bold" font-style="normal" text-anchor="end" fill="#222" >6</text>
<line x1="37.85" y1="223.10" x2="37.85" y2="222.30" stroke="#222" stroke-width="0.8"/>
<line x1="33.85" y1="222.30" x2="41.85" y2="222.30" stroke="#222" stroke-width="0.8"/>
<rect x="30.40" y="223.40" width="14.90" height="10.00" fill="#ffffff" stroke="#222" stroke-width="0.8"/>
<line x1="65.30" y1="184.20" x2="65.30" y2="181.50" stroke="#222" stroke-width="0.8"/>
<line x1="61.00" y1="181.50" x2="69.60" y2="181.50" stroke="#222" stroke-width="0.8"/>
<rect x="58.20" y="184.50" width="14.20" height="48.90" fill="#000" stroke="#222" stroke-width="0.8"/>
<line x1="92.35" y1="222.30" x2="92.35" y2="220.70" stroke="#222" stroke-width="0.8"/>
<line x1="88.05" y1="220.70" x2="96.65" y2="220.70" stroke="#222" stroke-width="0.8"/>
<rect x="85.30" y="222.60" width="14.10" height="10.80" fill="#000" stroke="#222" stroke-width="0.8"/>
<text x="37.75" y="243.60" font-size="6.8" font-weight="bold" font-style="normal" text-anchor="middle" fill="#111" textLength="10.5" lengthAdjust="spacingAndGlyphs" stroke="#111" stroke-width="0.25" >Veh</text>
<text x="65.15" y="243.60" font-size="6.8" font-weight="bold" font-style="normal" text-anchor="middle" fill="#111" textLength="6.6" lengthAdjust="spacingAndGlyphs" stroke="#111" stroke-width="0.25" >PE</text>
<text x="92.55" y="243.10" font-size="6.8" font-weight="bold" font-style="normal" text-anchor="middle" fill="#111" textLength="16.9" lengthAdjust="spacingAndGlyphs" stroke="#111" stroke-width="0.25" >PE + V</text>
<text x="0" y="0" transform="translate(9.49,207.10) rotate(-90)" font-size="7.2" font-weight="bold" font-style="italic" text-anchor="middle" fill="#111" textLength="12.0" lengthAdjust="spacingAndGlyphs" stroke="#111" stroke-width="0.15">Anf</text>
<text x="0" y="0" transform="translate(15.22,206.00) rotate(-90)" font-size="6.6" font-weight="bold" font-style="normal" text-anchor="middle" fill="#111" textLength="38.3" lengthAdjust="spacingAndGlyphs" stroke="#111" stroke-width="0.2">(fold of Veh)</text>
<path d="M65.60,175.00L65.60,178.00M64.30,175.75L66.90,177.25M66.90,175.75L64.30,177.25" stroke="#111" stroke-width="0.95" fill="none"/>
<circle cx="65.6" cy="176.5" r="0.83" fill="#111"/>
<path d="M86.60,215.90L86.60,218.90M85.30,216.65L87.90,218.15M87.90,216.65L85.30,218.15" stroke="#111" stroke-width="0.95" fill="none"/>
<circle cx="86.6" cy="217.4" r="0.83" fill="#111"/>
<path d="M90.70,215.90L90.70,218.90M89.40,216.65L92.00,218.15M92.00,216.65L89.40,218.15" stroke="#111" stroke-width="0.95" fill="none"/>
<circle cx="90.7" cy="217.4" r="0.83" fill="#111"/>
<path d="M91.8,214.8 L93,213.2 L94.2,214.8" fill="none" stroke="#555" stroke-width="0.7"/>
<text x="110.00" y="157.00" font-size="9.8" font-weight="bold" font-style="normal" text-anchor="start" fill="#000" stroke="#000" stroke-width="0.35" >E.</text>
<line x1="136.90" y1="174.20" x2="136.90" y2="233.40" stroke="#333" stroke-width="0.95"/>
<line x1="136.90" y1="233.40" x2="213.00" y2="233.40" stroke="#333" stroke-width="0.95"/>
<line x1="135.30" y1="233.40" x2="136.90" y2="233.40" stroke="#333" stroke-width="0.8"/>
<text x="134.50" y="234.80" font-size="4.2" font-weight="bold" font-style="normal" text-anchor="end" fill="#222" >0</text>
<line x1="135.30" y1="218.60" x2="136.90" y2="218.60" stroke="#333" stroke-width="0.8"/>
<text x="134.50" y="220.00" font-size="4.2" font-weight="bold" font-style="normal" text-anchor="end" fill="#222" >1</text>
<line x1="135.30" y1="203.80" x2="136.90" y2="203.80" stroke="#333" stroke-width="0.8"/>
<text x="134.50" y="205.20" font-size="4.2" font-weight="bold" font-style="normal" text-anchor="end" fill="#222" >2</text>
<line x1="135.30" y1="189.00" x2="136.90" y2="189.00" stroke="#333" stroke-width="0.8"/>
<text x="134.50" y="190.40" font-size="4.2" font-weight="bold" font-style="normal" text-anchor="end" fill="#222" >3</text>
<line x1="135.30" y1="174.20" x2="136.90" y2="174.20" stroke="#333" stroke-width="0.8"/>
<text x="134.50" y="175.60" font-size="4.2" font-weight="bold" font-style="normal" text-anchor="end" fill="#222" >4</text>
<line x1="150.35" y1="217.40" x2="150.35" y2="216.60" stroke="#222" stroke-width="0.8"/>
<line x1="146.10" y1="216.60" x2="154.60" y2="216.60" stroke="#222" stroke-width="0.8"/>
<rect x="142.90" y="217.70" width="14.90" height="15.70" fill="#ffffff" stroke="#222" stroke-width="0.8"/>
<line x1="176.80" y1="181.80" x2="176.80" y2="180.40" stroke="#222" stroke-width="0.8"/>
<line x1="172.80" y1="180.40" x2="180.80" y2="180.40" stroke="#222" stroke-width="0.8"/>
<rect x="169.70" y="182.10" width="14.20" height="51.30" fill="#000" stroke="#222" stroke-width="0.8"/>
<line x1="203.20" y1="208.10" x2="203.20" y2="206.40" stroke="#222" stroke-width="0.8"/>
<line x1="200.10" y1="206.40" x2="206.30" y2="206.40" stroke="#222" stroke-width="0.8"/>
<rect x="196.40" y="208.40" width="13.60" height="25.00" fill="#000" stroke="#222" stroke-width="0.8"/>
<text x="150.50" y="243.60" font-size="6.8" font-weight="bold" font-style="normal" text-anchor="middle" fill="#111" textLength="10.2" lengthAdjust="spacingAndGlyphs" stroke="#111" stroke-width="0.25" >Veh</text>
<text x="177.30" y="243.60" font-size="6.8" font-weight="bold" font-style="normal" text-anchor="middle" fill="#111" textLength="11.1" lengthAdjust="spacingAndGlyphs" stroke="#111" stroke-width="0.25" >ET-1</text>
<text x="205.30" y="243.00" font-size="6.8" font-weight="bold" font-style="normal" text-anchor="middle" fill="#111" textLength="22.1" lengthAdjust="spacingAndGlyphs" stroke="#111" stroke-width="0.25" >ET-1 + V</text>
<text x="0" y="0" transform="translate(121.49,207.00) rotate(-90)" font-size="7.2" font-weight="bold" font-style="italic" text-anchor="middle" fill="#111" textLength="11.4" lengthAdjust="spacingAndGlyphs" stroke="#111" stroke-width="0.15">Anf</text>
<text x="0" y="0" transform="translate(128.82,201.20) rotate(-90)" font-size="6.6" font-weight="bold" font-style="normal" text-anchor="middle" fill="#111" textLength="39.0" lengthAdjust="spacingAndGlyphs" stroke="#111" stroke-width="0.2">(fold of Veh)</text>
<path d="M176.70,175.00L176.70,178.00M175.40,175.75L178.00,177.25M178.00,175.75L175.40,177.25" stroke="#111" stroke-width="0.95" fill="none"/>
<circle cx="176.7" cy="176.5" r="0.83" fill="#111"/>
<path d="M194.40,204.60L194.40,207.60M193.10,205.35L195.70,206.85M195.70,205.35L193.10,206.85" stroke="#111" stroke-width="0.95" fill="none"/>
<circle cx="194.4" cy="206.1" r="0.83" fill="#111"/>
<path d="M198.90,204.60L198.90,207.60M197.60,205.35L200.20,206.85M200.20,205.35L197.60,206.85" stroke="#111" stroke-width="0.95" fill="none"/>
<circle cx="198.9" cy="206.1" r="0.83" fill="#111"/>
<path d="M203,198.4 L203,203.8 M201.5,200.1 L204.5,200.1" fill="none" stroke="#111" stroke-width="0.9"/>
<text x="218.40" y="157.00" font-size="9.8" font-weight="bold" font-style="normal" text-anchor="start" fill="#000" stroke="#000" stroke-width="0.35" >F.</text>
<line x1="243.30" y1="174.20" x2="243.30" y2="236.10" stroke="#333" stroke-width="0.95"/>
<line x1="243.30" y1="236.10" x2="312.80" y2="236.10" stroke="#333" stroke-width="0.95"/>
<line x1="241.70" y1="236.10" x2="243.30" y2="236.10" stroke="#333" stroke-width="0.8"/>
<text x="240.90" y="237.50" font-size="4.2" font-weight="bold" font-style="normal" text-anchor="end" fill="#222" >0</text>
<line x1="241.70" y1="205.15" x2="243.30" y2="205.15" stroke="#333" stroke-width="0.8"/>
<text x="240.90" y="206.55" font-size="4.2" font-weight="bold" font-style="normal" text-anchor="end" fill="#222" >2</text>
<line x1="241.70" y1="174.20" x2="243.30" y2="174.20" stroke="#333" stroke-width="0.8"/>
<text x="240.90" y="175.60" font-size="4.2" font-weight="bold" font-style="normal" text-anchor="end" fill="#222" >4</text>
<line x1="255.45" y1="220.20" x2="255.45" y2="219.20" stroke="#222" stroke-width="0.8"/>
<line x1="251.45" y1="219.20" x2="259.45" y2="219.20" stroke="#222" stroke-width="0.8"/>
<rect x="248.40" y="220.50" width="14.10" height="15.60" fill="#ffffff" stroke="#222" stroke-width="0.8"/>
<line x1="280.15" y1="185.20" x2="280.15" y2="183.40" stroke="#222" stroke-width="0.8"/>
<line x1="276.15" y1="183.40" x2="284.15" y2="183.40" stroke="#222" stroke-width="0.8"/>
<rect x="273.20" y="185.50" width="13.90" height="50.60" fill="#000" stroke="#222" stroke-width="0.8"/>
<line x1="304.75" y1="189.20" x2="304.75" y2="188.40" stroke="#222" stroke-width="0.8"/>
<line x1="300.60" y1="188.40" x2="308.90" y2="188.40" stroke="#222" stroke-width="0.8"/>
<rect x="297.80" y="189.50" width="13.90" height="46.60" fill="#000" stroke="#222" stroke-width="0.8"/>
<text x="255.10" y="244.70" font-size="6.8" font-weight="bold" font-style="normal" text-anchor="middle" fill="#111" textLength="9.6" lengthAdjust="spacingAndGlyphs" stroke="#111" stroke-width="0.25" >Veh</text>
<text x="279.40" y="244.70" font-size="6.8" font-weight="bold" font-style="normal" text-anchor="middle" fill="#111" textLength="8.4" lengthAdjust="spacingAndGlyphs" stroke="#111" stroke-width="0.25" >ISO</text>
<text x="305.00" y="244.00" font-size="6.8" font-weight="bold" font-style="normal" text-anchor="middle" fill="#111" textLength="17.2" lengthAdjust="spacingAndGlyphs" stroke="#111" stroke-width="0.25" >ISO + V</text>
<text x="0" y="0" transform="translate(227.59,206.70) rotate(-90)" font-size="7.2" font-weight="bold" font-style="italic" text-anchor="middle" fill="#111" textLength="12.1" lengthAdjust="spacingAndGlyphs" stroke="#111" stroke-width="0.15">Anf</text>
<text x="0" y="0" transform="translate(234.82,205.60) rotate(-90)" font-size="6.6" font-weight="bold" font-style="normal" text-anchor="middle" fill="#111" textLength="39.6" lengthAdjust="spacingAndGlyphs" stroke="#111" stroke-width="0.2">(fold of Veh)</text>
<path d="M280.00,177.40L280.00,180.40M278.70,178.15L281.30,179.65M281.30,178.15L278.70,179.65" stroke="#111" stroke-width="0.95" fill="none"/>
<circle cx="280" cy="178.9" r="0.83" fill="#111"/>
<text x="325.00" y="157.00" font-size="9.8" font-weight="bold" font-style="normal" text-anchor="start" fill="#000" stroke="#000" stroke-width="0.35" >G.</text>
<line x1="354.50" y1="170.00" x2="354.50" y2="233.40" stroke="#333" stroke-width="0.95"/>
<line x1="354.50" y1="233.40" x2="428.20" y2="233.40" stroke="#333" stroke-width="0.95"/>
<line x1="352.90" y1="233.40" x2="354.50" y2="233.40" stroke="#333" stroke-width="0.8"/>
<text x="352.10" y="234.80" font-size="4.2" font-weight="bold" font-style="normal" text-anchor="end" fill="#222" >0</text>
<line x1="352.90" y1="217.55" x2="354.50" y2="217.55" stroke="#333" stroke-width="0.8"/>
<text x="352.10" y="218.95" font-size="4.2" font-weight="bold" font-style="normal" text-anchor="end" fill="#222" >1</text>
<line x1="352.90" y1="201.70" x2="354.50" y2="201.70" stroke="#333" stroke-width="0.8"/>
<text x="352.10" y="203.10" font-size="4.2" font-weight="bold" font-style="normal" text-anchor="end" fill="#222" >2</text>
<line x1="352.90" y1="185.85" x2="354.50" y2="185.85" stroke="#333" stroke-width="0.8"/>
<text x="352.10" y="187.25" font-size="4.2" font-weight="bold" font-style="normal" text-anchor="end" fill="#222" >3</text>
<line x1="352.90" y1="170.00" x2="354.50" y2="170.00" stroke="#333" stroke-width="0.8"/>
<text x="352.10" y="171.40" font-size="4.2" font-weight="bold" font-style="normal" text-anchor="end" fill="#222" >4</text>
<line x1="367.75" y1="217.20" x2="367.75" y2="216.30" stroke="#222" stroke-width="0.8"/>
<line x1="363.75" y1="216.30" x2="371.75" y2="216.30" stroke="#222" stroke-width="0.8"/>
<rect x="360.70" y="217.50" width="14.10" height="15.90" fill="#ffffff" stroke="#222" stroke-width="0.8"/>
<line x1="393.75" y1="183.10" x2="393.75" y2="180.40" stroke="#222" stroke-width="0.8"/>
<line x1="389.65" y1="180.40" x2="397.85" y2="180.40" stroke="#222" stroke-width="0.8"/>
<rect x="386.90" y="183.40" width="13.70" height="50.00" fill="#000" stroke="#222" stroke-width="0.8"/>
<line x1="419.95" y1="184.20" x2="419.95" y2="182.80" stroke="#222" stroke-width="0.8"/>
<line x1="415.80" y1="182.80" x2="424.10" y2="182.80" stroke="#222" stroke-width="0.8"/>
<rect x="413.30" y="184.50" width="13.30" height="48.90" fill="#000" stroke="#222" stroke-width="0.8"/>
<text x="367.10" y="242.60" font-size="6.8" font-weight="bold" font-style="normal" text-anchor="middle" fill="#111" textLength="9.5" lengthAdjust="spacingAndGlyphs" stroke="#111" stroke-width="0.25" >Veh</text>
<text x="393.50" y="242.60" font-size="6.8" font-weight="bold" font-style="normal" text-anchor="middle" fill="#111" textLength="10.6" lengthAdjust="spacingAndGlyphs" stroke="#111" stroke-width="0.25" >Ag II</text>
<text x="419.60" y="241.70" font-size="6.8" font-weight="bold" font-style="normal" text-anchor="middle" fill="#111" textLength="18.1" lengthAdjust="spacingAndGlyphs" stroke="#111" stroke-width="0.25" >AgII + V</text>
<text x="0" y="0" transform="translate(338.69,206.50) rotate(-90)" font-size="7.2" font-weight="bold" font-style="italic" text-anchor="middle" fill="#111" textLength="12.7" lengthAdjust="spacingAndGlyphs" stroke="#111" stroke-width="0.15">Anf</text>
<text x="0" y="0" transform="translate(345.82,203.60) rotate(-90)" font-size="6.6" font-weight="bold" font-style="normal" text-anchor="middle" fill="#111" textLength="37.8" lengthAdjust="spacingAndGlyphs" stroke="#111" stroke-width="0.2">(fold of Veh)</text>
<path d="M393.20,174.80L393.20,177.80M391.90,175.55L394.50,177.05M394.50,175.55L391.90,177.05" stroke="#111" stroke-width="0.95" fill="none"/>
<circle cx="393.2" cy="176.3" r="0.83" fill="#111"/>
<text x="440.20" y="157.00" font-size="9.8" font-weight="bold" font-style="normal" text-anchor="start" fill="#000" stroke="#000" stroke-width="0.35" >H.</text>
<line x1="472.40" y1="165.70" x2="472.40" y2="236.50" stroke="#333" stroke-width="0.8"/>
<line x1="472.40" y1="236.50" x2="549.00" y2="236.50" stroke="#333" stroke-width="0.8"/>
<line x1="470.00" y1="236.50" x2="472.40" y2="236.50" stroke="#333" stroke-width="0.8"/>
<line x1="470.80" y1="225.30" x2="472.40" y2="225.30" stroke="#333" stroke-width="0.8"/>
<line x1="470.00" y1="212.60" x2="472.40" y2="212.60" stroke="#333" stroke-width="0.8"/>
<line x1="470.80" y1="200.40" x2="472.40" y2="200.40" stroke="#333" stroke-width="0.8"/>
<line x1="470.00" y1="187.60" x2="472.40" y2="187.60" stroke="#333" stroke-width="0.8"/>
<line x1="470.80" y1="177.00" x2="472.40" y2="177.00" stroke="#333" stroke-width="0.8"/>
<line x1="470.00" y1="165.70" x2="472.40" y2="165.70" stroke="#333" stroke-width="0.8"/>
<text x="466.00" y="236.40" font-size="5.4" font-weight="bold" font-style="normal" text-anchor="end" fill="#111" stroke="#111" stroke-width="0.25" >0.0</text>
<text x="466.00" y="214.80" font-size="5.4" font-weight="bold" font-style="normal" text-anchor="end" fill="#111" stroke="#111" stroke-width="0.25" >2.0</text>
<text x="466.00" y="189.10" font-size="5.4" font-weight="bold" font-style="normal" text-anchor="end" fill="#111" stroke="#111" stroke-width="0.25" >4.0</text>
<text x="466.00" y="168.40" font-size="5.4" font-weight="bold" font-style="normal" text-anchor="end" fill="#111" stroke="#111" stroke-width="0.25" >6.0</text>
<line x1="497.40" y1="236.50" x2="497.40" y2="238.10" stroke="#333" stroke-width="0.8"/>
<line x1="521.40" y1="236.50" x2="521.40" y2="238.10" stroke="#333" stroke-width="0.8"/>
<line x1="485.75" y1="180.40" x2="485.75" y2="177.60" stroke="#333" stroke-width="0.8"/>
<line x1="483.25" y1="177.60" x2="488.25" y2="177.60" stroke="#333" stroke-width="0.8"/>
<rect x="479.80" y="180.70" width="11.90" height="55.80" fill="#ffffff" stroke="#333" stroke-width="0.8"/>
<line x1="508.65" y1="164.00" x2="508.65" y2="161.30" stroke="#222" stroke-width="0.8"/>
<line x1="506.15" y1="161.30" x2="511.15" y2="161.30" stroke="#222" stroke-width="0.8"/>
<rect x="502.60" y="164.30" width="12.10" height="72.20" fill="#000" stroke="#222" stroke-width="0.8"/>
<line x1="532.55" y1="174.40" x2="532.55" y2="170.60" stroke="#333" stroke-width="0.8"/>
<line x1="530.45" y1="170.60" x2="534.65" y2="170.60" stroke="#333" stroke-width="0.8"/>
<rect x="526.60" y="174.70" width="11.90" height="61.80" fill="#6e6e6e" stroke="#333" stroke-width="0.8"/>
<path d="M508.30,152.90L508.30,155.90M507.00,153.65L509.60,155.15M509.60,153.65L507.00,155.15" stroke="#111" stroke-width="0.95" fill="none"/>
<circle cx="508.3" cy="154.4" r="0.83" fill="#111"/>
<path d="M529.30,164.70L529.30,167.70M528.00,165.45L530.60,166.95M530.60,165.45L528.00,166.95" stroke="#111" stroke-width="0.95" fill="none"/>
<circle cx="529.3" cy="166.2" r="0.83" fill="#111"/>
<path d="M533.60,164.70L533.60,167.70M532.30,165.45L534.90,166.95M534.90,165.45L532.30,166.95" stroke="#111" stroke-width="0.95" fill="none"/>
<circle cx="533.6" cy="166.2" r="0.83" fill="#111"/>
<text x="485.40" y="244.80" font-size="6.4" font-weight="bold" font-style="normal" text-anchor="middle" fill="#111" textLength="11.3" lengthAdjust="spacingAndGlyphs" stroke="#111" stroke-width="0.22" >Con</text>
<text x="509.40" y="244.80" font-size="6.4" font-weight="bold" font-style="normal" text-anchor="middle" fill="#111" textLength="11.0" lengthAdjust="spacingAndGlyphs" stroke="#111" stroke-width="0.22" >Veh</text>
<text x="531.60" y="244.80" font-size="6.4" font-weight="bold" font-style="normal" text-anchor="middle" fill="#111" textLength="12.4" lengthAdjust="spacingAndGlyphs" stroke="#111" stroke-width="0.22" >VDR</text>
<line x1="503.80" y1="252.00" x2="539.10" y2="252.00" stroke="#777" stroke-width="1.0"/>
<text x="520.40" y="261.60" font-size="7.4" font-weight="bold" font-style="normal" text-anchor="middle" fill="#111" textLength="8.4" lengthAdjust="spacingAndGlyphs" stroke="#111" stroke-width="0.3" >PE</text>
<text x="0" y="0" transform="translate(451.19,202.10) rotate(-90)" font-size="6.9" font-weight="bold" font-style="normal" text-anchor="middle" fill="#111" textLength="47.8" lengthAdjust="spacingAndGlyphs" stroke="#111" stroke-width="0.3">HW/BW (mg/g)</text>
<text x="559.10" y="157.00" font-size="9.8" font-weight="bold" font-style="normal" text-anchor="start" fill="#000" stroke="#000" stroke-width="0.35" >I.</text>
<line x1="602.60" y1="159.50" x2="602.60" y2="236.00" stroke="#333" stroke-width="0.8"/>
<line x1="602.60" y1="236.00" x2="674.50" y2="236.00" stroke="#333" stroke-width="0.8"/>
<line x1="600.20" y1="236.00" x2="602.60" y2="236.00" stroke="#333" stroke-width="0.8"/>
<line x1="601.00" y1="223.25" x2="602.60" y2="223.25" stroke="#333" stroke-width="0.8"/>
<line x1="600.20" y1="210.50" x2="602.60" y2="210.50" stroke="#333" stroke-width="0.8"/>
<line x1="601.00" y1="197.75" x2="602.60" y2="197.75" stroke="#333" stroke-width="0.8"/>
<line x1="600.20" y1="185.00" x2="602.60" y2="185.00" stroke="#333" stroke-width="0.8"/>
<line x1="601.00" y1="172.25" x2="602.60" y2="172.25" stroke="#333" stroke-width="0.8"/>
<line x1="600.20" y1="159.50" x2="602.60" y2="159.50" stroke="#333" stroke-width="0.8"/>
<text x="596.00" y="237.80" font-size="5.4" font-weight="bold" font-style="normal" text-anchor="end" fill="#111" stroke="#111" stroke-width="0.25" >0.0</text>
<text x="596.00" y="212.30" font-size="5.4" font-weight="bold" font-style="normal" text-anchor="end" fill="#111" stroke="#111" stroke-width="0.25" >2.0</text>
<text x="596.00" y="186.80" font-size="5.4" font-weight="bold" font-style="normal" text-anchor="end" fill="#111" stroke="#111" stroke-width="0.25" >4.0</text>
<text x="596.00" y="161.30" font-size="5.4" font-weight="bold" font-style="normal" text-anchor="end" fill="#111" stroke="#111" stroke-width="0.25" >6.0</text>
<line x1="626.80" y1="236.00" x2="626.80" y2="237.60" stroke="#333" stroke-width="0.8"/>
<line x1="649.50" y1="236.00" x2="649.50" y2="237.60" stroke="#333" stroke-width="0.8"/>
<line x1="615.60" y1="223.10" x2="615.60" y2="222.40" stroke="#333" stroke-width="0.8"/>
<line x1="613.60" y1="222.40" x2="617.60" y2="222.40" stroke="#333" stroke-width="0.8"/>
<rect x="609.70" y="223.40" width="11.80" height="12.60" fill="#ffffff" stroke="#333" stroke-width="0.8"/>
<line x1="637.80" y1="161.60" x2="637.80" y2="158.60" stroke="#222" stroke-width="0.8"/>
<line x1="635.55" y1="158.60" x2="640.05" y2="158.60" stroke="#222" stroke-width="0.8"/>
<rect x="631.90" y="161.90" width="11.80" height="74.10" fill="#000" stroke="#222" stroke-width="0.8"/>
<line x1="659.90" y1="218.00" x2="659.90" y2="214.50" stroke="#333" stroke-width="0.8"/>
<line x1="657.60" y1="214.50" x2="662.20" y2="214.50" stroke="#333" stroke-width="0.8"/>
<rect x="653.50" y="218.30" width="12.80" height="17.70" fill="#6e6e6e" stroke="#333" stroke-width="0.8"/>
<path d="M637.00,151.10L637.00,154.10M635.70,151.85L638.30,153.35M638.30,151.85L635.70,153.35" stroke="#111" stroke-width="0.95" fill="none"/>
<circle cx="637.0" cy="152.6" r="0.83" fill="#111"/>
<path d="M656.60,207.20L656.60,210.20M655.30,207.95L657.90,209.45M657.90,207.95L655.30,209.45" stroke="#111" stroke-width="0.95" fill="none"/>
<circle cx="656.6" cy="208.7" r="0.83" fill="#111"/>
<path d="M660.90,207.20L660.90,210.20M659.60,207.95L662.20,209.45M662.20,207.95L659.60,209.45" stroke="#111" stroke-width="0.95" fill="none"/>
<circle cx="660.9" cy="208.7" r="0.83" fill="#111"/>
<text x="614.80" y="245.50" font-size="6.4" font-weight="bold" font-style="normal" text-anchor="middle" fill="#111" textLength="11.0" lengthAdjust="spacingAndGlyphs" stroke="#111" stroke-width="0.22" >Con</text>
<text x="637.30" y="245.50" font-size="6.4" font-weight="bold" font-style="normal" text-anchor="middle" fill="#111" textLength="10.9" lengthAdjust="spacingAndGlyphs" stroke="#111" stroke-width="0.22" >Veh</text>
<text x="661.00" y="245.50" font-size="6.4" font-weight="bold" font-style="normal" text-anchor="middle" fill="#111" textLength="12.0" lengthAdjust="spacingAndGlyphs" stroke="#111" stroke-width="0.22" >VDR</text>
<line x1="631.70" y1="251.50" x2="667.30" y2="251.50" stroke="#555" stroke-width="0.9"/>
<text x="649.80" y="262.40" font-size="7.4" font-weight="bold" font-style="normal" text-anchor="middle" fill="#111" textLength="8.4" lengthAdjust="spacingAndGlyphs" stroke="#111" stroke-width="0.3" >PE</text>
<text x="0" y="0" transform="translate(571.82,198.50) rotate(-90)" font-size="7.0" font-weight="bold" font-style="italic" text-anchor="middle" fill="#222" textLength="34.9" lengthAdjust="spacingAndGlyphs">Anf/Gapdh</text>
<text x="0" y="0" transform="translate(580.25,198.90) rotate(-90)" font-size="6.75" font-weight="normal" font-style="normal" text-anchor="middle" fill="#222" textLength="67.6" lengthAdjust="spacingAndGlyphs">(Normalize to Control)</text>
</svg>
</body></html>
